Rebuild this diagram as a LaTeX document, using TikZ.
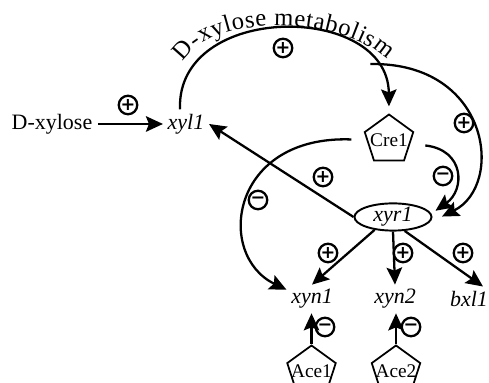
\documentclass[tikz,border=0pt]{standalone}
\usepackage{fontspec}
\setmainfont{Liberation Serif}
\newfontfamily\timesfont{Liberation Serif}
\newfontfamily\signfont{DejaVu Sans}
\usetikzlibrary{shapes.geometric, arrows.meta, decorations.text}

\tikzset{
    arr/.style={line width=1.3pt, -{Stealth[length=3.4mm, width=3.1mm, inset=0.6mm]}},
    sign/.style={draw, circle, line width=1.3pt, inner sep=0pt, minimum size=3.7mm, font=\signfont\fontsize{10}{10}\selectfont\bfseries},
    gene/.style={inner sep=2.5pt, font=\timesfont\fontsize{12.5}{14}\selectfont\itshape},
    prot/.style={draw, regular polygon, regular polygon sides=5, line width=1pt, inner sep=0pt, minimum size=1.02cm, font=\timesfont\fontsize{11}{12}\selectfont},
}

\begin{document}
\begin{tikzpicture}
        \useasboundingbox (0, 0) rectangle (9.78, 7.66);

        \node [font=\timesfont\fontsize{12.5}{14}\selectfont] (dxyl) at (1.04, 5.18) {D-xylose};
        \node [gene] (xyl1) at (3.72, 5.18) {xyl1};
        \node [prot] (cre1) at (7.78, 4.86) {\makebox[0pt]{Cre1}};
        \node [gene, draw, ellipse, line width=1.1pt, minimum width=1.54cm, minimum height=0.5cm, inner sep=0pt] (xyr1) at (7.86, 3.32) {xyr1};
        \node [gene] (xyn1) at (6.24, 1.68) {xyn1};
        \node [gene] (xyn2) at (7.90, 1.68) {xyn2};
        \node [gene] (bxl1) at (9.38, 1.68) {bxl1};
        \node [prot] (ace1) at (6.23, 0.24) {\makebox[0pt]{Ace1}};
        \node [prot] (ace2) at (7.92, 0.24) {\makebox[0pt]{Ace2}};

        \node [sign] (s1) at (2.56, 5.56) {+};
        \node [sign] (s2) at (5.66, 6.70) {+};
        \node [sign] (s3) at (9.28, 5.20) {+};
        \node [sign] (s4) at (8.86, 4.14) {−};
        \node [sign] (s5) at (5.16, 3.66) {−};
        \node [sign] (s6) at (6.46, 4.12) {+};
        \node [sign] (s7) at (6.56, 2.60) {+};
        \node [sign] (s8) at (8.06, 2.60) {+};
        \node [sign] (s9) at (9.26, 2.60) {+};
        \node [sign] (s10) at (6.50, 1.12) {−};
        \node [sign] (s11) at (8.22, 1.12) {−};

        \draw [arr] (dxyl) -- (xyl1);

        % metabolism loop
        \draw [arr, shorten >=1.4mm] ([xshift=-1.2mm]xyl1.north) .. controls (3.52, 7.62) and (7.76, 7.62) .. (cre1.corner 1) coordinate [pos=0.82] (brk);
        \path [decorate, decoration={text along path, text align=fit to path, text={|\timesfont\fontsize{14}{16}\selectfont|D-xylose metabolism}}] (3.66, 6.42) .. controls (4.30, 7.46) and (6.90, 7.30) .. (7.74, 6.46);
        \draw [arr, shorten >=3mm] (brk) .. controls (9.80, 6.42) and (10.10, 3.96) .. (xyr1.-10);

        \draw [arr, shorten <=3mm, shorten >=1mm] (cre1.-10) .. controls (9.30, 4.66) and (9.30, 3.86) .. (xyr1.5);
        \draw [arr, shorten <=3mm] (cre1.west) .. controls (4.60, 4.96) and (4.30, 2.56) .. (xyn1.160);

        \draw [arr] (xyr1.west) -- (xyl1.east);
        \draw [arr] (xyr1.-145) -- (xyn1.north);
        \draw [arr] (xyr1.south) -- (xyn2.north);
        \draw [arr] (xyr1.-50) -- ([xshift=2.8mm]bxl1.north);

        \draw [arr] (ace1.corner 1) -- (ace1.corner 1 |- xyn1.south);
        \draw [arr] (ace2.corner 1) -- (ace2.corner 1 |- xyn2.south);
\end{tikzpicture}
\end{document}
